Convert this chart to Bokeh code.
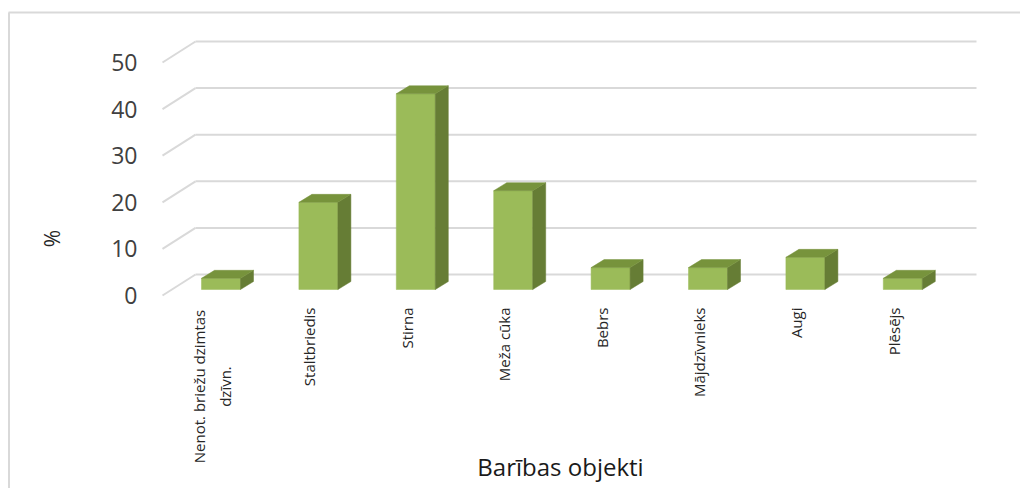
import math
from bokeh.plotting import figure
from bokeh.models import Range1d
from bokeh.core.properties import value
from bokeh.embed import file_html
from bokeh.resources import INLINE

# ---------------- data ----------------
categories = ["Nenot. briežu dzimtas\ndzīvn.", "Staltbriedis", "Stirna", "Meža cūka",
              "Bebrs", "Mājdzīvnieks", "Augi", "Plēsējs"]
values = [2.4, 18.7, 42.0, 21.2, 4.7, 4.7, 6.9, 2.4]
y_ticks = [0, 10, 20, 30, 40, 50]
y_tick_labels = ["0", "10", "20", "30", "40", "50"]
y_title = "%"
x_title = "Barības objekti"

# ---------------- layout (page pixels -> data) ----------------
W, H = 1020, 488
MARGIN = 0
PX_X0, PX_DX = 220.5, 97.4   # page x of category 0 centre, px per category
PX_Y0, PX_DY = 289.0, 4.66   # page y of value 0 (bar base), px per unit


def xd(px):
    return (px - PX_X0) / PX_DX


def yd(py):
    return (PX_Y0 - py) / PX_DY


def wx(px):
    return px / PX_DX


def wy(py):
    return py / PX_DY


p = figure(width=W, height=H, output_backend="svg", toolbar_location=None,
           x_range=Range1d(xd(MARGIN), xd(MARGIN + W)),
           y_range=Range1d(yd(MARGIN + H), yd(MARGIN)),
           x_axis_location=None, y_axis_location=None, min_border=0,
           outline_line_color=None, background_fill_color="white",
           border_fill_color="white")
p.grid.grid_line_color = None

GRID = "#D9D9D9"

# chart area border (left and top edges visible)
p.segment(x0=[xd(8.5), xd(8)], y0=[yd(12), yd(12)], x1=[xd(8.5), xd(1030)], y1=[yd(500), yd(12)],
          line_color=GRID, line_width=2)

# back wall gridlines + floor diagonals
back_off = wy(15)
front_off = -wy(6)
p.segment(x0=[xd(195)] * len(y_ticks), y0=[v + back_off for v in y_ticks],
          x1=[xd(976)] * len(y_ticks), y1=[v + back_off for v in y_ticks],
          line_color=GRID, line_width=2)
p.segment(x0=[xd(162)] * len(y_ticks), y0=[v + front_off for v in y_ticks],
          x1=[xd(195)] * len(y_ticks), y1=[v + back_off for v in y_ticks],
          line_color=GRID, line_width=2)

# 3D bars
hw = wx(19.5)
ddx = wx(13)
ddy = wy(8)
idx = list(range(len(categories)))
FRONT, TOP, SIDE = "#9BBB59", "#77933C", "#667D35"

p.quad(left=[i - hw for i in idx], right=[i + hw for i in idx],
       bottom=[0] * len(idx), top=values,
       fill_color=FRONT, line_color=FRONT, line_width=0.5)
p.patches(xs=[[i + hw, i + hw + ddx, i + hw + ddx, i + hw] for i in idx],
          ys=[[0, ddy, v + ddy, v] for v in values],
          fill_color=SIDE, line_color=SIDE, line_width=0.5)
p.patches(xs=[[i - hw, i + hw, i + hw + ddx, i - hw + ddx] for i in idx],
          ys=[[v, v, v + ddy, v + ddy] for v in values],
          fill_color=TOP, line_color=TOP, line_width=0.5)

# category labels (rotated)
FONT = value("Open Sans")
single_x, single_t = [], []
multi_x, multi_t = [], []
for i, cat in zip(idx, categories):
    lines = cat.split("\n")
    n = len(lines)
    if n == 1:
        single_x.append(i + wx(-9))
        single_t.append(cat)
    else:
        for k, ln in enumerate(lines):
            multi_x.append(i + wx(-9 + (k - (n - 1) / 2) * 26))
            multi_t.append(ln)

p.text(x=single_x, y=[yd(307)] * len(single_x), text=single_t, angle=math.pi / 2,
       text_align="right", text_baseline="middle", text_font=FONT,
       text_font_size=value("15px"), text_color="#262626")
p.text(x=multi_x, y=[yd(386)] * len(multi_x), text=multi_t, angle=math.pi / 2,
       text_align="center", text_baseline="middle", text_font=FONT,
       text_font_size=value("15px"), text_color="#262626")

# y tick labels
p.text(x=[xd(137)] * len(y_ticks), y=[v + front_off for v in y_ticks], text=y_tick_labels,
       text_align="right", text_baseline="middle", text_font=FONT,
       text_font_size=value("23px"), text_color="#404040")

# axis titles
p.text(x=[xd(51)], y=[yd(238)], text=[y_title], angle=math.pi / 2,
       text_align="center", text_baseline="middle", text_font=FONT,
       text_font_size=value("21px"), text_color="#262626")
p.text(x=[xd(560)], y=[yd(466)], text=[x_title],
       text_align="center", text_baseline="middle", text_font=FONT,
       text_font_size=value("24px"), text_color="#1a1a1a")

open("out.html", "w").write(file_html(p, INLINE))
